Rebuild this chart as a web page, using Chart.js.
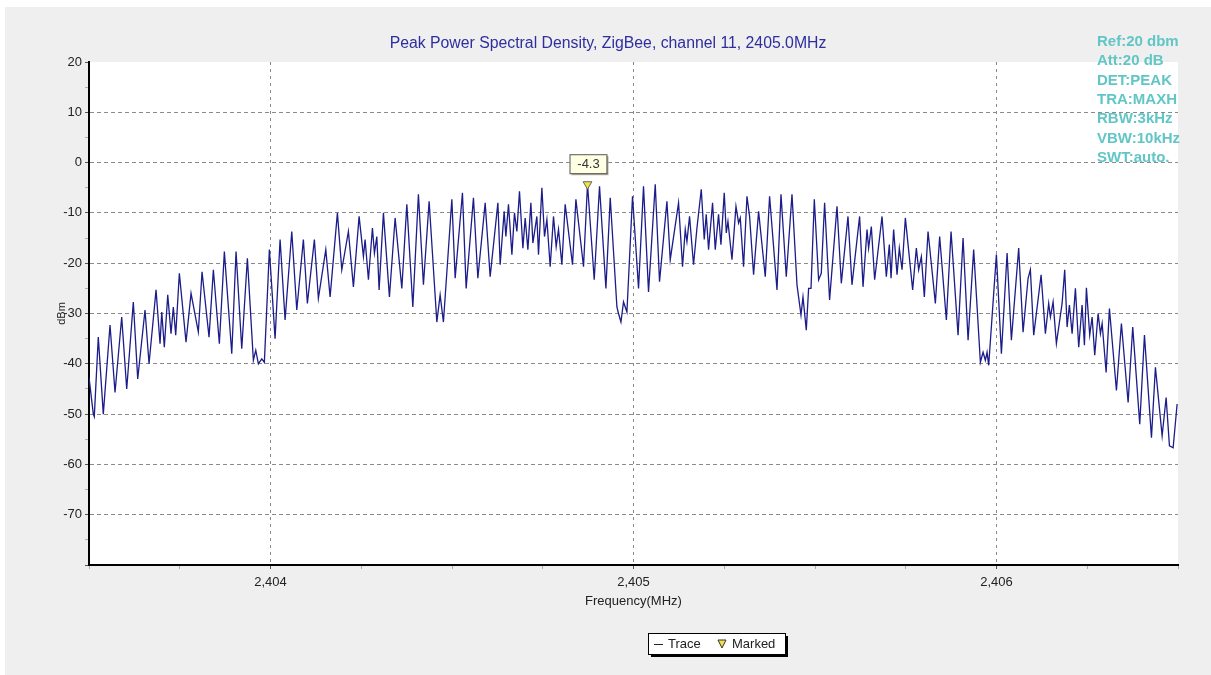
<!DOCTYPE html>
<html>
<head>
<meta charset="utf-8">
<script src="https://cdn.jsdelivr.net/npm/chart.js@4"></script>
<style>
  html, body { margin: 0; padding: 0; background: #ffffff; }
  #wrap { width: 1211px; height: 675px; }
</style>
</head>
<body>
<div id="wrap"><canvas id="psd" width="1211" height="675"></canvas></div>
<script>
// trace (peaks / troughs), MHz and dBm
const freqMHz = [
  2403.5000, 2403.5119, 2403.5146, 2403.5256, 2403.5394, 2403.5579, 2403.5717, 2403.5901, 2403.6039, 2403.6221,
  2403.6342, 2403.6543, 2403.6654, 2403.6847, 2403.6957, 2403.7004, 2403.7075, 2403.7169, 2403.7260, 2403.7323,
  2403.7389, 2403.7489, 2403.7673, 2403.7811, 2403.8012, 2403.8114, 2403.8307, 2403.8426, 2403.8591, 2403.8729,
  2403.8933, 2403.9051, 2403.9208, 2403.9363, 2403.9528, 2403.9594, 2403.9666, 2403.9760, 2403.9831, 2403.9969,
  2404.0126, 2404.0264, 2404.0402, 2404.0586, 2404.0724, 2404.0906, 2404.1016, 2404.1209, 2404.1319, 2404.1523,
  2404.1642, 2404.1843, 2404.1964, 2404.2146, 2404.2284, 2404.2441, 2404.2560, 2404.2606, 2404.2698, 2404.2808,
  2404.2863, 2404.2929, 2404.2992, 2404.3111, 2404.3276, 2404.3433, 2404.3618, 2404.3756, 2404.3921, 2404.4075,
  2404.4213, 2404.4370, 2404.4582, 2404.4673, 2404.4764, 2404.4996, 2404.5087, 2404.5288, 2404.5390, 2404.5591,
  2404.5712, 2404.5914, 2404.6051, 2404.6264, 2404.6327, 2404.6437, 2404.6484, 2404.6556, 2404.6650, 2404.6721,
  2404.6787, 2404.6859, 2404.6953, 2404.7016, 2404.7090, 2404.7173, 2404.7228, 2404.7338, 2404.7383, 2404.7476,
  2404.7548, 2404.7614, 2404.7705, 2404.7796, 2404.7870, 2404.7934, 2404.8027, 2404.8118, 2404.8320, 2404.8413,
  2404.8623, 2404.8733, 2404.8918, 2404.9064, 2404.9240, 2404.9359, 2404.9543, 2404.9587, 2404.9654, 2404.9725,
  2404.9819, 2404.9973, 2405.0139, 2405.0276, 2405.0414, 2405.0599, 2405.0717, 2405.0921, 2405.1012, 2405.1241,
  2405.1351, 2405.1426, 2405.1472, 2405.1544, 2405.1654, 2405.1748, 2405.1867, 2405.1949, 2405.2004, 2405.2068,
  2405.2178, 2405.2252, 2405.2343, 2405.2409, 2405.2500, 2405.2556, 2405.2602, 2405.2713, 2405.2823, 2405.2895,
  2405.2941, 2405.3032, 2405.3126, 2405.3198, 2405.3308, 2405.3446, 2405.3630, 2405.3749, 2405.3953, 2405.4063,
  2405.4209, 2405.4366, 2405.4504, 2405.4614, 2405.4669, 2405.4760, 2405.4824, 2405.4890, 2405.4981, 2405.5099,
  2405.5173, 2405.5265, 2405.5402, 2405.5606, 2405.5725, 2405.5909, 2405.6019, 2405.6229, 2405.6323, 2405.6433,
  2405.6477, 2405.6552, 2405.6643, 2405.6847, 2405.6965, 2405.7048, 2405.7095, 2405.7166, 2405.7260, 2405.7323,
  2405.7398, 2405.7489, 2405.7690, 2405.7792, 2405.7855, 2405.7930, 2405.8012, 2405.8114, 2405.8316, 2405.8434,
  2405.8619, 2405.8748, 2405.8941, 2405.9079, 2405.9217, 2405.9371, 2405.9556, 2405.9630, 2405.9693, 2405.9740,
  2405.9785, 2405.9997, 2406.0135, 2406.0292, 2406.0410, 2406.0611, 2406.0732, 2406.0870, 2406.0933, 2406.1025,
  2406.1229, 2406.1347, 2406.1438, 2406.1485, 2406.1559, 2406.1650, 2406.1807, 2406.1879, 2406.1945, 2406.2008,
  2406.2083, 2406.2174, 2406.2265, 2406.2358, 2406.2422, 2406.2477, 2406.2568, 2406.2634, 2406.2706, 2406.2799,
  2406.2863, 2406.2910, 2406.3020, 2406.3111, 2406.3304, 2406.3441, 2406.3626, 2406.3753, 2406.3946, 2406.4076,
  2406.4269, 2406.4378, 2406.4563, 2406.4673, 2406.4764, 2406.4866, 2406.4976
]
const powerDbm = [
  -42.7, -50.0, -50.5, -34.7, -50.0, -32.3, -45.7, -30.7, -45.0, -27.7,
  -43.0, -29.3, -40.0, -25.3, -36.0, -29.7, -36.7, -26.3, -34.0, -28.7,
  -34.3, -22.0, -35.7, -26.0, -33.7, -21.7, -34.7, -21.3, -36.0, -17.7,
  -38.0, -17.7, -37.0, -19.0, -39.3, -37.3, -40.0, -39.0, -39.7, -17.3,
  -35.0, -15.3, -31.3, -13.7, -29.3, -15.3, -28.0, -15.3, -27.0, -17.3,
  -26.7, -10.0, -21.3, -13.7, -24.7, -10.7, -18.7, -15.3, -23.3, -13.0,
  -18.0, -14.7, -25.3, -10.0, -26.7, -11.0, -25.0, -8.3, -28.7, -6.3,
  -24.3, -7.7, -31.7, -26.3, -31.7, -7.3, -23.0, -6.0, -25.0, -7.0,
  -23.0, -8.0, -22.7, -8.0, -20.3, -9.7, -14.7, -8.3, -18.3, -10.0,
  -13.7, -5.7, -17.0, -11.0, -17.3, -8.0, -16.0, -10.7, -18.3, -5.0,
  -14.7, -11.3, -20.7, -10.7, -16.7, -13.3, -20.3, -8.3, -20.3, -7.3,
  -20.7, -4.3, -23.3, -4.7, -25.0, -7.0, -28.7, -30.0, -31.7, -27.7,
  -29.7, -6.7, -25.0, -4.7, -25.7, -4.3, -23.7, -7.7, -19.3, -8.0,
  -20.7, -13.3, -15.7, -10.7, -20.3, -13.0, -5.3, -15.3, -10.3, -17.3,
  -8.0, -17.3, -10.3, -16.3, -6.0, -14.0, -11.7, -19.3, -8.7, -12.0,
  -11.0, -20.7, -6.7, -10.7, -22.3, -9.7, -22.7, -6.7, -25.3, -6.3,
  -22.7, -6.3, -24.3, -30.3, -26.7, -33.3, -25.0, -25.0, -7.3, -23.3,
  -22.0, -8.0, -27.3, -8.7, -24.0, -10.7, -24.3, -10.7, -24.7, -13.3,
  -17.0, -12.7, -23.3, -10.7, -22.7, -16.3, -23.0, -13.3, -22.3, -17.0,
  -21.3, -11.0, -25.3, -17.0, -21.3, -18.7, -26.7, -13.7, -28.0, -14.7,
  -31.3, -13.7, -34.3, -15.0, -35.3, -17.3, -39.7, -37.7, -39.3, -37.7,
  -40.3, -18.3, -38.0, -18.0, -35.3, -17.0, -33.7, -23.0, -21.3, -34.3,
  -22.3, -34.0, -28.0, -30.7, -27.7, -36.0, -28.0, -21.3, -32.7, -28.3,
  -34.0, -25.0, -36.7, -28.3, -36.3, -24.9, -34.3, -30.7, -38.3, -30.0,
  -34.0, -32.0, -41.7, -29.0, -45.3, -32.0, -47.7, -32.7, -52.0, -34.3,
  -54.7, -40.7, -54.3, -46.7, -56.3, -56.7, -48.0
]

// marker
const markerFreq = [2404.8733]
const markerDbm = [-4.3]

const titleText = 'Peak Power Spectral Density, ZigBee, channel 11, 2405.0MHz'
const infoLines = ['Ref:20 dbm', 'Att:20 dB', 'DET:PEAK', 'TRA:MAXH', 'RBW:3kHz', 'VBW:10kHz', 'SWT:auto.']

const FONT = "'Liberation Sans', Arial, sans-serif"

function isWhole(v, step) {
  return Math.abs(v / step - Math.round(v / step)) < 1e-6
}

const framePlugin = {
  id: 'frame',
  beforeDraw(chart) {
    const ctx = chart.ctx
    const a = chart.chartArea
    ctx.save()
    ctx.fillStyle = '#ffffff'
    ctx.fillRect(0, 0, chart.width, chart.height)
    ctx.fillStyle = '#efefef'
    ctx.fillRect(5, 7, chart.width - 5, chart.height - 7)
    ctx.fillStyle = '#ffffff'
    ctx.fillRect(a.left, a.top, a.right - a.left, a.bottom - a.top)
    ctx.restore()
  },
  afterDraw(chart) {
    const ctx = chart.ctx
    ctx.save()
    // title
    ctx.font = '15.8px ' + FONT
    ctx.fillStyle = '#2e2e9e'
    ctx.textAlign = 'center'
    ctx.textBaseline = 'middle'
    ctx.fillText(titleText, 608, 44)

    // analyzer settings
    ctx.font = 'bold 15px ' + FONT
    ctx.fillStyle = '#62c6c6'
    ctx.textAlign = 'left'
    for (let i = 0; i < infoLines.length; i++)
      ctx.fillText(infoLines[i], 1097, 42 + i * 19.3)

    // marker label
    const mx = chart.scales.x.getPixelForValue(markerFreq[0])
    const my = chart.scales.y.getPixelForValue(markerDbm[0])
    ctx.fillStyle = '#b0b0a0'
    ctx.fillRect(mx - 18 + 2, my - 30 + 2, 37, 19)
    ctx.fillStyle = '#ffffe4'
    ctx.fillRect(mx - 18, my - 30, 37, 19)
    ctx.strokeStyle = '#555555'
    ctx.lineWidth = 1
    ctx.strokeRect(mx - 18 + 0.5, my - 30 + 0.5, 37, 19)
    ctx.font = '13px ' + FONT
    ctx.fillStyle = '#333333'
    ctx.textAlign = 'center'
    ctx.fillText(markerDbm[0].toFixed(1), mx + 1, my - 20)

    // legend box
    const lx = 648, ly = 633, lw = 137, lh = 21
    ctx.fillStyle = '#000000'
    ctx.fillRect(lx + 3, ly + 3, lw, lh)
    ctx.fillStyle = '#ffffff'
    ctx.fillRect(lx, ly, lw, lh)
    ctx.strokeStyle = '#000000'
    ctx.strokeRect(lx + 0.5, ly + 0.5, lw, lh)
    ctx.strokeStyle = '#222222'
    ctx.beginPath()
    ctx.moveTo(lx + 6, ly + 11.5)
    ctx.lineTo(lx + 15, ly + 11.5)
    ctx.stroke()
    ctx.font = '13px ' + FONT
    ctx.fillStyle = '#222222'
    ctx.textAlign = 'left'
    ctx.fillText('Trace', lx + 20, ly + 11)
    ctx.fillStyle = '#f0e050'
    ctx.beginPath()
    ctx.moveTo(lx + 70, ly + 7)
    ctx.lineTo(lx + 78, ly + 7)
    ctx.lineTo(lx + 74, ly + 15)
    ctx.closePath()
    ctx.fill()
    ctx.strokeStyle = '#333333'
    ctx.stroke()
    ctx.fillStyle = '#222222'
    ctx.fillText('Marked', lx + 84, ly + 11)
    ctx.restore()
  }
}

const traceData = freqMHz.map((f, i) => ({ x: f, y: powerDbm[i] }))
const markerData = markerFreq.map((f, i) => ({ x: f, y: markerDbm[i] }))

new Chart(document.getElementById('psd'), {
  type: 'line',
  data: {
    datasets: [{
      label: 'Trace',
      data: traceData,
      borderColor: '#1c1c8a',
      borderWidth: 1.3,
      pointRadius: 0,
      tension: 0,
      fill: false,
      order: 2
    }, {
      label: 'Marked',
      data: markerData,
      showLine: false,
      pointStyle: 'triangle',
      rotation: 180,
      pointRadius: 5,
      backgroundColor: '#f2e24a',
      borderColor: '#666655',
      borderWidth: 1,
      order: 1
    }]
  },
  options: {
    responsive: false,
    animation: false,
    layout: { padding: { top: 62, left: 0, right: 33, bottom: 60 } },
    plugins: {
      legend: { display: false },
      tooltip: { enabled: false },
      title: { display: false }
    },
    scales: {
      x: {
        type: 'linear',
        min: 2403.5,
        max: 2406.5,
        afterFit(scale) { scale.height = 50 },
        ticks: {
          stepSize: 0.25,
          autoSkip: false,
          maxRotation: 0,
          padding: 6,
          color: '#222222',
          font: { family: FONT, size: 13 },
          callback: v => isWhole(v, 1) ? v.toLocaleString('en-US') : ''
        },
        grid: {
          color: c => (c.tick && isWhole(c.tick.value, 1)) ? '#8a8a8a' : 'rgba(0,0,0,0)',
          tickColor: c => (c.tick && isWhole(c.tick.value, 1)) ? '#555555' : '#aaaaaa',
          tickLength: 4,
          lineWidth: 1
        },
        border: { display: true, color: '#000000', width: 2, dash: [3, 4] },
        title: {
          display: true,
          text: 'Frequency(MHz)',
          color: '#222222',
          font: { family: FONT, size: 13 },
          padding: { top: 0, bottom: 6 }
        }
      },
      y: {
        min: -80,
        max: 20,
        afterFit(scale) { scale.width = 89 },
        ticks: {
          stepSize: 5,
          autoSkip: false,
          padding: 3,
          color: '#222222',
          font: { family: FONT, size: 13 },
          callback: v => (isWhole(v, 10) && v !== -80) ? v : ''
        },
        grid: {
          color: c => (c.tick && isWhole(c.tick.value, 10) && c.tick.value !== 20 && c.tick.value !== -80) ? '#8a8a8a' : 'rgba(0,0,0,0)',
          tickColor: c => (c.tick && isWhole(c.tick.value, 10)) ? '#555555' : '#b0b0b0',
          tickLength: 4,
          lineWidth: 1
        },
        border: { display: true, color: '#000000', width: 2, dash: [4, 3] },
        title: {
          display: true,
          text: 'dBm',
          color: '#222222',
          font: { family: FONT, size: 11 },
          padding: { top: 55, bottom: 0 }
        }
      }
    }
  },
  plugins: [framePlugin]
})
</script>
</body>
</html>
